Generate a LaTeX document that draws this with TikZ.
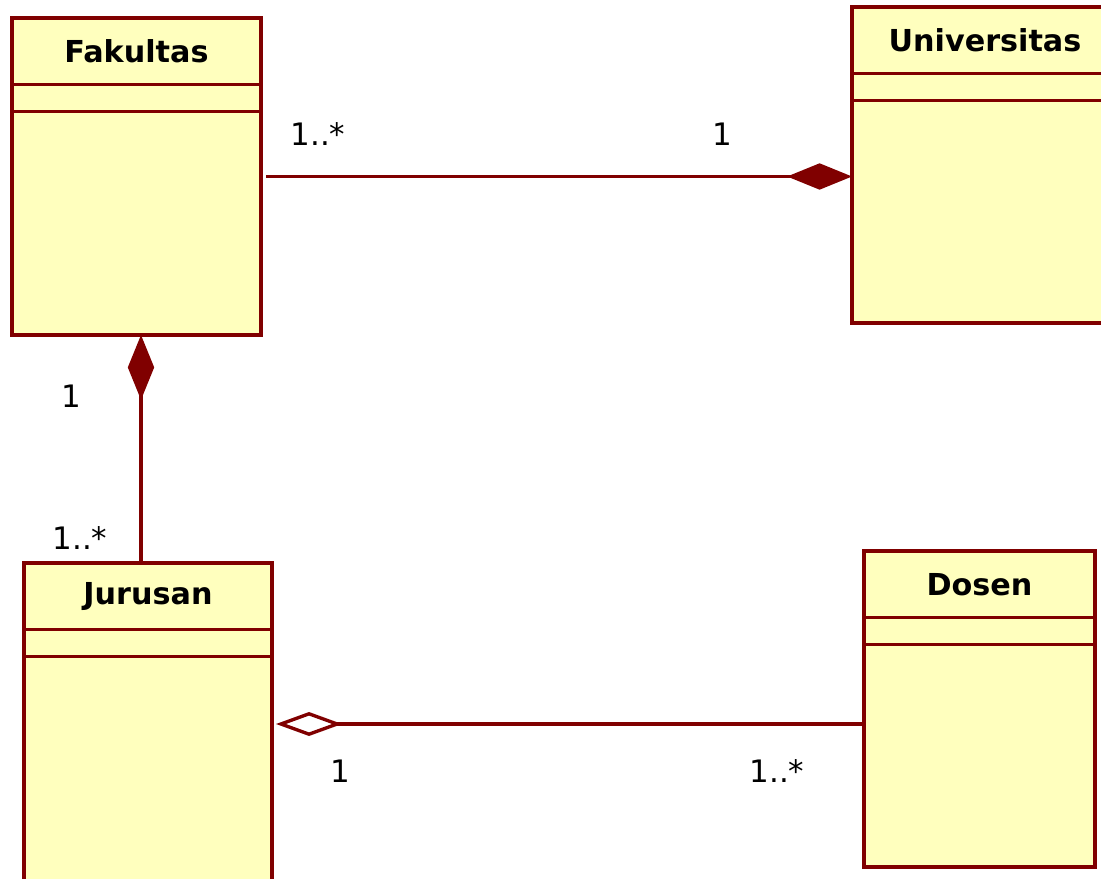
\documentclass[tikz,border=0pt]{standalone}
\usepackage{fontspec}
\setmainfont{DejaVu Sans}
\usetikzlibrary{arrows.meta,calc}

\definecolor{garismerah}{RGB}{128,0,0}
\definecolor{isikuning}{RGB}{255,255,190}

% kelas UML: nama, x, y, lebar, tinggi, judul
\newcommand{\umlkelas}[6]{%
  \node[kotak, minimum width=#4*0.025cm, minimum height=#5*0.025cm] (#1) at (#2,#3) {};
  \node[judul] (#1-judul) at ($(#1.north)+(0,33.5)$) {#6};
  \draw[pemisah] ($(#1.north west)+(0,66.5)$) -- ++(#4+2,0);
  \draw[pemisah] ($(#1.north west)+(0,93.5)$) -- ++(#4+2,0);
}

\begin{document}
\begin{tikzpicture}[%
    x=0.025cm, y=-0.025cm,
    kotak/.style={draw=garismerah, fill=isikuning, line width=2.6pt,
        anchor=north west, outer sep=0pt, inner sep=0pt},
    judul/.style={font=\fontsize{21.5}{26}\selectfont\bfseries},
    pemisah/.style={draw=garismerah, line width=2.4pt},
    multi/.style={font=\fontsize{22}{26}\selectfont},
    komposisi/.style={draw=garismerah, line width=2.4pt,
        -{Diamond[length=1.62cm,width=0.66cm]}},
    agregasi/.style={draw=garismerah, line width=2.4pt,
        -{Diamond[open,length=1.65cm,width=0.6cm]}}
    ]
    \useasboundingbox (0,0) rectangle (1101,879);
    \clip (0,0) rectangle (1101,879);

    \umlkelas{fak}{12}{18}{249}{317}{Fakultas}
    \umlkelas{univ}{852}{7}{266}{316}{Universitas}
    \umlkelas{jur}{24}{563}{248}{322}{Jurusan}
    \umlkelas{dos}{864}{551}{231}{316}{Dosen}

    % relasi antar kelas
    \draw[komposisi, shorten <=0.125cm] (fak.east) -- (fak.east -| univ.west);
    \draw[komposisi] ($(jur.north -| fak.south)+(4.5,0)$) -- ($(fak.south)+(4.5,0)$);
    \draw[agregasi, shorten >=0.1cm] (dos.west |- jur.east) -- (jur.east);

    % multiplisitas
    \node[multi] (m-fak-univ) at (318,134) {1..*};
    \node[multi] (m-univ-fak) at (722,134) {1};
    \node[multi] (m-fak-jur)  at (71,396)  {1};
    \node[multi] (m-jur-fak)  at (80,538)  {1..*};
    \node[multi] (m-jur-dos)  at (340,771) {1};
    \node[multi] (m-dos-jur)  at (777,771) {1..*};

\end{tikzpicture}
\end{document}
